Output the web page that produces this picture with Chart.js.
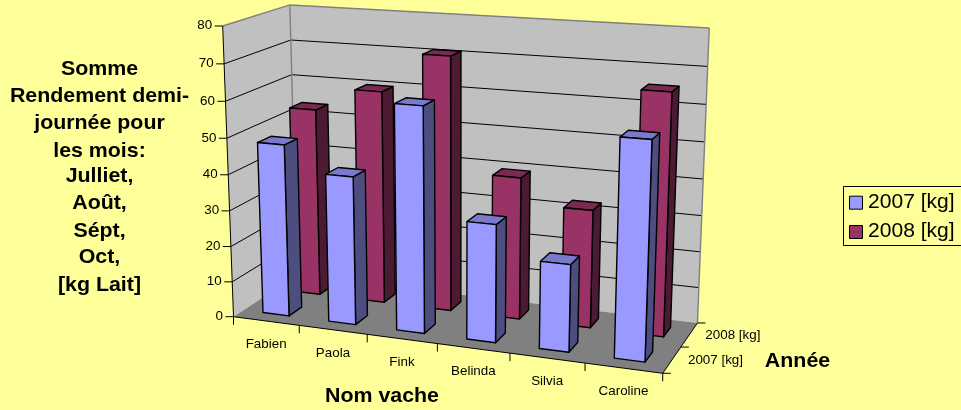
<!DOCTYPE html>
<html>
<head>
<meta charset="utf-8">
<style>
  html, body { margin: 0; padding: 0; background: #ffff99; }
  #wrap { width: 961px; height: 410px; }
</style>
<script src="https://cdn.jsdelivr.net/npm/chart.js@4"></script>
</head>
<body>
<div id="wrap"><canvas id="chart"></canvas></div>
<script>
// data
const cows = ["Fabien", "Paola", "Fink", "Belinda", "Silvia", "Caroline"];
const years = ["2007 [kg]", "2008 [kg]"];
const values2007 = [48, 41, 61.5, 32, 23.5, 57.5];
const values2008 = [53.5, 60, 71, 39.5, 32.5, 65.5];
const yTicks = [0, 10, 20, 30, 40, 50, 60, 70, 80];
const leftTitle = ["Somme", "Rendement demi-", "journée pour", "les mois:", "Julliet,", "Août,", "Sépt,", "Oct,", "[kg Lait]"];

const FONT = "Liberation Sans, Arial, sans-serif";
const TEXT_STRETCH = 1.08; // the original image is a bit wider than tall

// corners of the 3d box on screen + perspective weights
const O = [233.5, 316.7], X = [662.7, 373.3], Y = [222.7, 26], Z = [297, 275];
const wx = 0.905, wy = 0.954, wz = 1.08;

function project(u, v, d) {
  const w = 1 + (wx - 1) * u + (wy - 1) * v + (wz - 1) * d;
  const k = 1 - u - v - d;
  return [0, 1].map((n) =>
    (k * O[n] + wx * u * X[n] + wy * v * Y[n] + wz * d * Z[n]) / w);
}

function poly(ctx, pts, fill, stroke, lw) {
  ctx.beginPath();
  pts.forEach((p, i) => (i ? ctx.lineTo(p[0], p[1]) : ctx.moveTo(p[0], p[1])));
  ctx.closePath();
  if (fill) { ctx.fillStyle = fill; ctx.fill(); }
  if (stroke) { ctx.strokeStyle = stroke; ctx.lineWidth = lw || 1; ctx.stroke(); }
}

function line(ctx, a, b, color, lw) {
  ctx.beginPath();
  ctx.moveTo(a[0], a[1]);
  ctx.lineTo(b[0], b[1]);
  ctx.strokeStyle = color;
  ctx.lineWidth = lw || 1;
  ctx.stroke();
}

function label(ctx, text, x, y, font, align) {
  ctx.save();
  ctx.translate(x, y);
  ctx.scale(TEXT_STRETCH, 1);
  ctx.font = font;
  ctx.fillStyle = "#000";
  ctx.textAlign = align || "center";
  ctx.textBaseline = "middle";
  ctx.fillText(text, 0, 0);
  ctx.restore();
}

const fakeThreeD = {
  id: "fakeThreeD",
  beforeDatasetsDraw(chart) {
    const ctx = chart.ctx;
    const xs = chart.scales.x, ys = chart.scales.y;
    const area = chart.chartArea;
    // scale pixel -> box coordinate
    const uOf = (px) => (px - area.left) / area.width;
    const vOf = (val) => (area.bottom - ys.getPixelForValue(val)) / area.height;
    const catW = 1 / cows.length;

    ctx.save();
    ctx.lineJoin = "round";

    // walls and floor
    poly(ctx, [project(0, 0, 0), project(0, 1, 0), project(0, 1, 1), project(0, 0, 1)], "#c0c0c0");
    poly(ctx, [project(0, 0, 1), project(0, 1, 1), project(1, 1, 1), project(1, 0, 1)], "#c0c0c0");
    poly(ctx, [project(0, 0, 0), project(0, 0, 1), project(1, 0, 1), project(1, 0, 0)], "#808080");

    // gridlines
    yTicks.forEach((t) => {
      if (t === 0 || t === 80) return;
      const v = vOf(t);
      line(ctx, project(0, v, 0), project(0, v, 1), "#000", 1);
      line(ctx, project(0, v, 1), project(1, v, 1), "#000", 1);
    });

    // wall outline
    line(ctx, project(0, 1, 0), project(0, 1, 1), "#808080", 1.4);
    line(ctx, project(0, 1, 1), project(1, 1, 1), "#808080", 1.4);
    line(ctx, project(1, 1, 1), project(1, 0, 1), "#808080", 1.4);
    line(ctx, project(0, 1, 1), project(0, 0, 1), "#808080", 1.4);

    // axes
    line(ctx, project(0, 0, 0), project(0, 1, 0), "#000", 1);
    line(ctx, project(0, 0, 0), project(1, 0, 0), "#000", 1);
    line(ctx, project(1, 0, 0), project(1, 0, 1), "#000", 1);

    yTicks.forEach((t) => {
      const p = project(0, vOf(t), 0);
      line(ctx, p, [p[0] - 8, p[1]], "#000", 1);
      label(ctx, String(t), p[0] - 10.5, p[1], "12.4px " + FONT, "right");
    });
    cows.forEach((c, i) => {
      const p = project(i * catW, 0, 0);
      line(ctx, p, [p[0], p[1] + 8], "#000", 1);
      const q = project((i + 0.5) * catW, 0, 0);
      label(ctx, c, q[0], q[1] + 23.5, "12.4px " + FONT);
    });
    line(ctx, project(1, 0, 0), [project(1, 0, 0)[0], project(1, 0, 0)[1] + 8], "#000", 1);
    [0, 0.5, 1].forEach((d) => {
      const p = project(1, 0, d);
      line(ctx, p, [p[0] + 8, p[1]], "#000", 1);
    });
    years.forEach((y, i) => {
      const p = project(1, 0, 0.25 + i * 0.5);
      label(ctx, y, p[0] + 16, p[1] + 0.5, "12.4px " + FONT, "left");
    });

    // bars: back row first
    [1, 0].forEach((row) => {
      const ds = chart.data.datasets[row];
      ds.data.forEach((val, i) => {
        const c = uOf(xs.getPixelForValue(i));
        const u0 = c - catW * 0.2, u1 = c + catW * 0.2;
        const d0 = 0.15 + row * 0.5, d1 = d0 + 0.2;
        const v = vOf(val);
        const ink = "#000";
        poly(ctx, [project(u1, 0, d0), project(u1, v, d0), project(u1, v, d1), project(u1, 0, d1)], ds.sideColor, ink, 1.4);
        poly(ctx, [project(u0, v, d0), project(u0, v, d1), project(u1, v, d1), project(u1, v, d0)], ds.topColor, ink, 1.4);
        poly(ctx, [project(u0, 0, d0), project(u0, v, d0), project(u1, v, d0), project(u1, 0, d0)], ds.backgroundColor, ink, 1.4);
      });
    });

    // titles
    const boldFont = "bold 19.8px " + FONT;
    leftTitle.forEach((t, i) => label(ctx, t, 99.5, leftTitleY[i], boldFont));
    label(ctx, "Nom vache", 382, 397, boldFont);
    label(ctx, "Année", 797.5, 362, boldFont);

    // legend box, runs off the right edge like the picture
    poly(ctx, [[843.5, 186.5], [970, 186.5], [970, 245.5], [843.5, 245.5]], "#ffff99", "#000", 1);
    chart.data.datasets.forEach((ds, i) => {
      const y = 202.7 + i * 29.3;
      poly(ctx, [[849.5, y - 6.5], [862.5, y - 6.5], [862.5, y + 6.5], [849.5, y + 6.5]], ds.backgroundColor, "#000", 1);
      label(ctx, ds.label, 868, y - 0.5, "19.5px " + FONT, "left");
    });

    ctx.restore();
    return false; // native flat bars stay undrawn
  },
};

const leftTitleY = [70, 97, 124, 152, 177, 204, 232, 258, 286];

new Chart(document.getElementById("chart"), {
  type: "bar",
  data: {
    labels: cows,
    datasets: [
      { label: years[0], data: values2007, backgroundColor: "#9999ff", sideColor: "#4d4d80", topColor: "#7a7acc" },
      { label: years[1], data: values2008, backgroundColor: "#993366", sideColor: "#4d1a33", topColor: "#7a2952" },
    ],
  },
  options: {
    responsive: true,
    maintainAspectRatio: false,
    animation: false,
    layout: { padding: { left: 234, right: 298, top: 26, bottom: 93 } },
    plugins: { legend: { display: false }, tooltip: { enabled: false } },
    scales: {
      x: { display: false },
      y: { display: false, min: 0, max: 80 },
    },
  },
  plugins: [fakeThreeD],
});
</script>
</body>
</html>
